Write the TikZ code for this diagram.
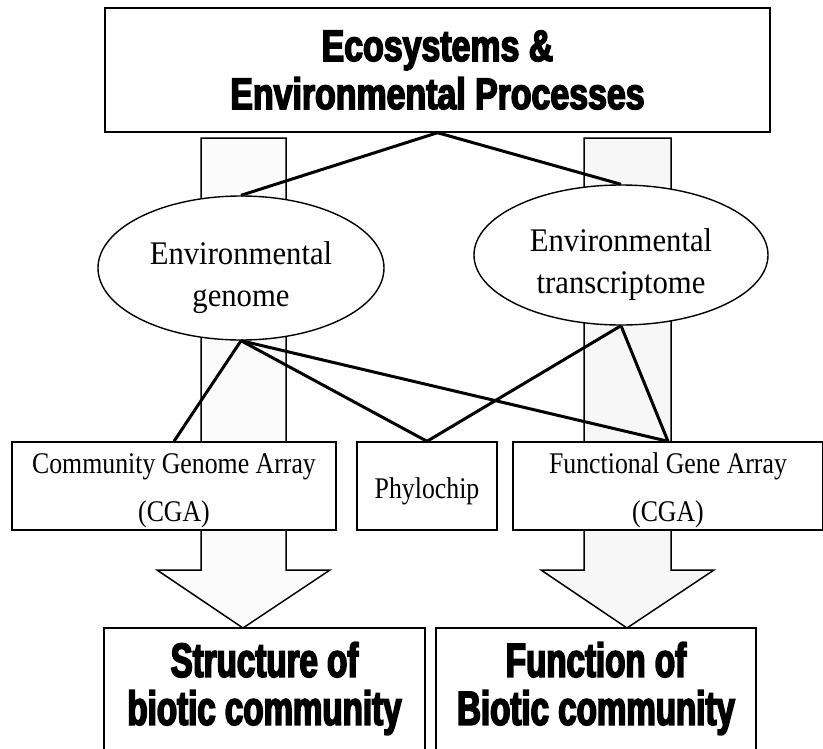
\documentclass[tikz,border=0pt]{standalone}
\usepackage{fontspec}
\setmainfont[FakeStretch=0.93]{Liberation Serif}
\newfontfamily\chipfont[FakeStretch=0.86]{Liberation Serif}
\newfontfamily\headfont[FakeStretch=0.77,BoldFeatures={FakeBold=3.5}]{Liberation Sans}
\newfontfamily\resultfont[FakeStretch=0.69,BoldFeatures={FakeBold=3.5}]{Liberation Sans}
\usetikzlibrary{shapes,calc,positioning}
\newcommand{\padtop}[1]{\rule{0pt}{#1}}
\newcommand{\padbot}[1]{\rule[-#1]{0pt}{#1}}
\tikzset{
blk/.style={draw,line width=1.4pt,fill=white,align=center,inner sep=0pt},
title/.style={blk,font=\headfont\bfseries\fontsize{44}{48}\selectfont},
result/.style={blk,font=\resultfont\bfseries\fontsize{48}{48}\selectfont},
oval/.style={ellipse,draw,line width=1.4pt,fill=white,align=center,inner sep=0pt,font=\fontsize{33}{42}\selectfont},
chip/.style={blk,font=\chipfont\fontsize{30}{48}\selectfont},
link/.style={line width=3pt},
bar/.style={draw,line width=1.5pt,line join=miter}
}

\begin{document}
\begin{tikzpicture}[x=1pt,y=-1pt]
	\useasboundingbox (0,0) rectangle (823,748);
	\clip (0,0) rectangle (823,748);
	\fill[white] (0,0) rectangle (823,748);
	
	%wide arrows behind everything
	\draw[bar,fill=gray!3] (201,138) -- (286,138) -- (286,570) -- (330,570) -- (243,628) -- (157,570) -- (201,570) -- cycle;
	\draw[bar,fill=gray!6] (584,138) -- (671,138) -- (671,570) -- (714,570) -- (627,628) -- (541,570) -- (584,570) -- cycle;
	
	%top box
	\node[title,minimum width=665,minimum height=124] (eco) at (437.5,70) {Ecosystems \&\\Environmental Processes};
	
	%environmental samples
	\node[oval,minimum width=286,minimum height=144] (genome) at (241,268) {\padtop{41.5pt}Environmental\\genome};
	\node[oval,minimum width=294,minimum height=140] (transcr) at (621,255) {\padtop{41.5pt}Environmental\\transcriptome};
	
	%arrays
	\node[chip,minimum width=324,minimum height=88] (cga) at (174,486) {\padtop{29.5pt}Community Genome Array\\(CGA)};
	\node[chip,minimum width=140,minimum height=88] (phylo) at (427,486) {\padtop{30.5pt}Phylochip};
	\node[chip,minimum width=310,minimum height=88] (fga) at (668,486) {\padtop{29.5pt}Functional Gene Array\\(CGA)};
	
	%results
	\node[result,minimum width=321,minimum height=128] (structure) at (264.5,692) {Structure of\\biotic community\padbot{17pt}};
	\node[result,minimum width=320,minimum height=128] (function) at (596,692) {Function of\\Biotic community\padbot{17pt}};
	
	%links
	\draw[link] (eco.south) -- (genome.north);
	\draw[link] (eco.south) -- (transcr.north);
	\draw[link] (genome.south) -- (cga.north);
	\draw[link] (genome.south) -- (phylo.north);
	\draw[link] (genome.south) -- (fga.north);
	\draw[link] (transcr.south) -- (phylo.north);
	\draw[link] (transcr.south) -- (fga.north);
	
\end{tikzpicture}
\end{document}
